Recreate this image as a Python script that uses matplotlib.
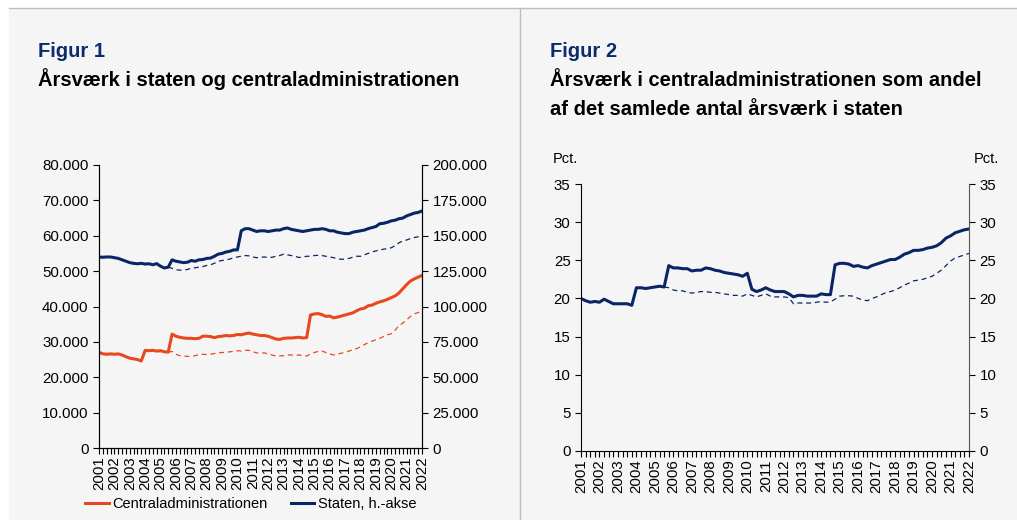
import matplotlib.pyplot as plt
from matplotlib.patches import Rectangle
from matplotlib.lines import Line2D
from matplotlib.ticker import FuncFormatter, MultipleLocator
import numpy as np

plt.rcParams['font.family'] = ['Liberation Sans', 'DejaVu Sans']

# kvartaler 2001K1 - 2022K1
years = list(range(2001, 2023))

# Figur 1: årsværk i staten (h.-akse) og i centraladministrationen
staten = [135, 134.8, 135, 135,
          134.5, 134, 133, 132,
          131, 130.5, 130.2, 130.5,
          130, 130.2, 129.5, 130.3,
          128.5, 127.2, 127.8, 133,
          132, 131.5, 131, 131.3,
          132.5, 132, 133, 133.2,
          134, 134.2, 135.5, 137,
          137.5, 138.5, 139, 140,
          140, 153.5, 155, 155,
          154, 153, 153.5, 153.5,
          153, 153.5, 154, 154,
          155, 155.5, 154.5, 154,
          153.5, 153, 153.5, 154,
          154.5, 154.5, 155, 154.5,
          153.5, 153.5, 152.5, 152,
          151.5, 151.5, 152.5, 153,
          153.5, 154, 155, 155.8,
          156.5, 158.5, 158.8, 159.5,
          160.5, 161, 162, 162.5,
          164, 165, 166, 166.5,
          167.5]
staten = [v * 1000 for v in staten]

# stiplet: uden omlægninger, fra 2005K3
staten_stip = [127.8, 127,
               126, 125.7, 125.7, 126.2,
               127, 127.4, 127.8, 128.2,
               129, 129.5, 130.5, 132,
               132.5, 133, 133.5, 134.5,
               135, 135.5, 136, 135.8,
               135, 134.5, 134.8, 135,
               134.6, 134.8, 135.5, 136,
               137, 136.5, 136, 135.5,
               134.6, 135, 135.5, 135.5,
               136, 136.2, 136, 135.5,
               135, 134.5, 133.8, 133.4,
               133.4, 134, 134.8, 135.5,
               135.5, 136.5, 137.5, 138.5,
               139.3, 140, 140.5, 140.9,
               141.5, 143, 145, 146.3,
               147, 148, 148.8, 149.2,
               149.4]
staten_stip = [v * 1000 for v in staten_stip]

central = [27.1, 26.6, 26.5, 26.6,
           26.5, 26.6, 26.3, 25.8,
           25.4, 25.2, 25.0, 24.6,
           27.6, 27.5, 27.6, 27.4,
           27.5, 27.2, 27.1, 32.2,
           31.6, 31.3, 31.1, 31.0,
           31.0, 30.9, 31.0, 31.6,
           31.6, 31.5, 31.2, 31.5,
           31.6, 31.8, 31.7, 31.8,
           32.1, 32.0, 32.3, 32.5,
           32.2, 32.0, 31.8, 31.8,
           31.6, 31.2, 30.8, 30.7,
           31.0, 31.1, 31.1, 31.2,
           31.3, 31.1, 31.2, 37.6,
           37.9, 38.0, 37.7, 37.2,
           37.3, 36.8, 37.0, 37.3,
           37.6, 37.9, 38.2, 38.8,
           39.3, 39.5, 40.2, 40.4,
           40.9, 41.3, 41.6, 42.0,
           42.5, 43.0, 43.8, 45.0,
           46.2, 47.2, 47.8, 48.3,
           48.8]
central = [v * 1000 for v in central]

central_stip = [27.1, 27.3,
                26.5, 26.1, 26.0, 25.9,
                25.9, 26.1, 26.4, 26.5,
                26.4, 26.5, 26.7, 26.9,
                27.0, 27.0, 27.2, 27.3,
                27.5, 27.4, 27.6, 27.6,
                27.2, 26.9, 26.8, 26.9,
                26.6, 26.3, 26.0, 26.0,
                26.1, 26.3, 26.3, 26.2,
                26.3, 26.1, 26.0, 26.6,
                27.0, 27.3, 27.4, 27.0,
                26.6, 26.3, 26.5, 26.8,
                27.0, 27.4, 27.8, 28.1,
                28.6, 29.2, 29.8, 30.2,
                30.6, 31.0, 31.5, 32.0,
                32.3, 33.3, 34.6, 35.3,
                36.2, 37.2, 37.9, 38.3,
                38.5]
central_stip = [v * 1000 for v in central_stip]

# Figur 2: andel i pct.
andel = [20.0, 19.7, 19.5, 19.6,
         19.5, 19.9, 19.6, 19.3,
         19.3, 19.3, 19.3, 19.1,
         21.4, 21.4, 21.3, 21.4,
         21.5, 21.6, 21.5, 24.3,
         24.0, 24.0, 23.9, 23.9,
         23.6, 23.7, 23.7, 24.0,
         23.9, 23.7, 23.6, 23.4,
         23.3, 23.2, 23.1, 22.9,
         23.3, 21.2, 20.9, 21.1,
         21.4, 21.1, 20.9, 20.9,
         20.9, 20.6, 20.2, 20.4,
         20.4, 20.3, 20.3, 20.3,
         20.6, 20.5, 20.5, 24.4,
         24.6, 24.6, 24.5, 24.2,
         24.3, 24.1, 24.0, 24.3,
         24.5, 24.7, 24.9, 25.1,
         25.1, 25.4, 25.8, 26.0,
         26.3, 26.3, 26.4, 26.6,
         26.7, 26.9, 27.3, 27.9,
         28.2, 28.6, 28.8, 29.0,
         29.1]

andel_stip = [21.5, 21.4,
              21.1, 21.0, 21.0, 20.8,
              20.7, 20.8, 20.9, 20.9,
              20.8, 20.8, 20.7, 20.6,
              20.5, 20.4, 20.4, 20.3,
              20.6, 20.4, 20.2, 20.4,
              20.6, 20.3, 20.2, 20.2,
              20.2, 20.1, 19.3, 19.4,
              19.4, 19.4, 19.4, 19.5,
              19.6, 19.5, 19.55, 19.9,
              20.3, 20.35, 20.35, 20.3,
              20.0, 19.8, 19.7, 20.0,
              20.2, 20.5, 20.75, 20.9,
              21.1, 21.4, 21.75, 22.0,
              22.3, 22.4, 22.5, 22.7,
              22.9, 23.3, 23.7, 24.3,
              24.9, 25.3, 25.5, 25.7,
              25.9]

NAVY = '#0a2566'
ORANGE = '#e9481e'
BG = '#f5f5f5'
TICK_FS = 10.8
TITLE_FS = 14.5

x = np.arange(len(staten))
x_stip = np.arange(len(staten) - len(staten_stip), len(staten))

fig = plt.figure(figsize=(10.17, 5.2), dpi=100)
fig.patch.set_facecolor('white')
W, H = 1017, 520
fig.patches.append(Rectangle((9 / W, 0), 1, 1 - 8 / H, transform=fig.transFigure,
                             facecolor=BG, edgecolor='none', zorder=-10))
fig.lines.append(Line2D([9 / W, 1], [1 - 8 / H] * 2, transform=fig.transFigure, color='#bdbdbd', lw=1))
fig.lines.append(Line2D([520 / W] * 2, [0, 1 - 8 / H], transform=fig.transFigure, color='#bdbdbd', lw=1))


def thousands(v, pos):
    return f"{v:,.0f}".replace(",", ".")


def style_xaxis(ax):
    ax.set_xlim(0, len(staten) - 1)
    ax.set_xticks(np.arange(0, len(staten), 4))
    ax.set_xticklabels([str(y) for y in years], rotation=90)
    ax.xaxis.set_minor_locator(MultipleLocator(1))
    ax.tick_params(axis='x', which='both', direction='out', length=4, width=0.8, pad=2, labelsize=TICK_FS)
    ax.set_facecolor(BG)
    ax.spines['top'].set_visible(False)


# --- Figur 1
fig.text(38 / W, 1 - 57 / H, 'Figur 1', color='#0b2d6e', fontsize=TITLE_FS, fontweight='bold')
fig.text(38 / W, 1 - 86 / H, 'Årsværk i staten og centraladministrationen', color='black',
         fontsize=TITLE_FS, fontweight='bold')

ax1 = fig.add_axes([99 / W, (H - 448) / H, 323 / W, 283 / H])
ax1r = ax1.twinx()
style_xaxis(ax1)
ax1r.spines['top'].set_visible(False)
ax1.set_ylim(0, 80000)
ax1r.set_ylim(0, 200000)
ax1.yaxis.set_major_locator(MultipleLocator(10000))
ax1r.yaxis.set_major_locator(MultipleLocator(25000))
ax1.yaxis.set_major_formatter(FuncFormatter(thousands))
ax1r.yaxis.set_major_formatter(FuncFormatter(thousands))
ax1.tick_params(axis='y', direction='out', length=4, labelsize=TICK_FS)
ax1r.tick_params(axis='y', direction='out', length=4, labelsize=TICK_FS)

ax1.plot(x_stip, central_stip, color=ORANGE, lw=0.9, ls=(0, (4, 3)))
ax1.plot(x, central, color=ORANGE, lw=2.2, label='Centraladministrationen')
ax1r.plot(x_stip, staten_stip, color=NAVY, lw=0.9, ls=(0, (4, 3)))
ax1r.plot(x, staten, color=NAVY, lw=2.2, label='Staten, h.-akse')

handles = [Line2D([], [], color=ORANGE, lw=2.2), Line2D([], [], color=NAVY, lw=2.2)]
fig.legend(handles, ['Centraladministrationen', 'Staten, h.-akse'], loc='center',
           bbox_to_anchor=(251 / W, 1 - 504 / H), ncol=2, frameon=False, fontsize=10.5,
           handlelength=1.6, handletextpad=0.25, columnspacing=1.6)

# --- Figur 2
fig.text(550 / W, 1 - 57 / H, 'Figur 2', color='#0b2d6e', fontsize=TITLE_FS, fontweight='bold')
fig.text(550 / W, 1 - 86 / H, 'Årsværk i centraladministrationen som andel', color='black',
         fontsize=TITLE_FS, fontweight='bold')
fig.text(550 / W, 1 - 115 / H, 'af det samlede antal årsværk i staten', color='black',
         fontsize=TITLE_FS, fontweight='bold')

ax2 = fig.add_axes([581 / W, (H - 451) / H, 388 / W, 267 / H])
style_xaxis(ax2)
ax2.set_ylim(0, 35)
ax2.yaxis.set_major_locator(MultipleLocator(5))
ax2.tick_params(axis='y', direction='out', length=4, labelsize=TICK_FS, right=True, labelright=True)
ax2.spines['right'].set_color('#555555')
ax2.plot(x_stip, andel_stip, color=NAVY, lw=0.9, ls=(0, (4, 3)))
ax2.plot(x, andel, color=NAVY, lw=2.2)
fig.text(553 / W, 1 - 163 / H, 'Pct.', fontsize=10.5)
fig.text(974 / W, 1 - 163 / H, 'Pct.', fontsize=10.5)

fig.savefig('out.png', dpi=100, facecolor=fig.get_facecolor())
